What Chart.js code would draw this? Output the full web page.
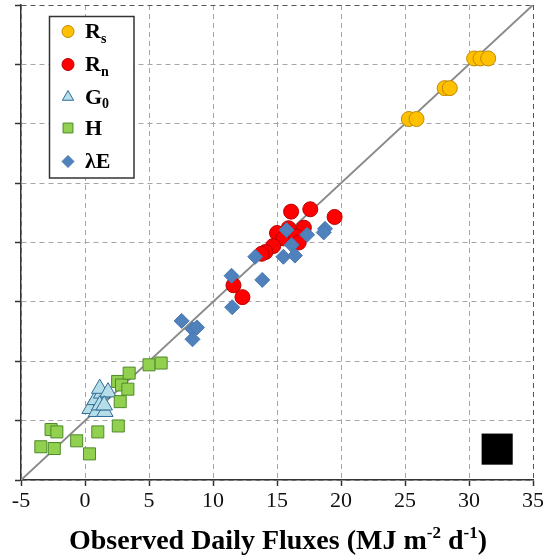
<!DOCTYPE html>
<html lang="en">
<head>
<meta charset="UTF-8">
<title>Observed daily fluxes</title>
<style>
  html, body { margin: 0; padding: 0; background: #fff; }
  #wrap { width: 548px; height: 558px; }
</style>
<script src="https://cdn.jsdelivr.net/npm/chart.js"></script>
</head>
<body>
<div id="wrap"><canvas id="fluxChart" width="548" height="558"></canvas></div>
<script>
// axis ticks (both axes run -5 .. 35)
const axisTicks = [-5, 0, 5, 10, 15, 20, 25, 30, 35];

// Rs - incoming solar radiation
const rsX = [30.4, 30.9, 31.5, 28.1, 28.5, 25.3, 25.9];
const rsY = [30.5, 30.5, 30.5, 28.0, 28.0, 25.4, 25.4];

// Rn - net radiation
const rnX = [16.1, 17.6, 19.5, 15.9, 17.1, 15.0, 15.5, 16.5, 16.7, 14.7, 14.1, 13.8, 11.6, 12.3];
const rnY = [17.6, 17.8, 17.15, 16.2, 16.25, 15.8, 15.35, 15.5, 15.0, 14.7, 14.2, 14.05, 11.4, 10.4];

// G0 - soil heat flux
const g0X = [0.4, 0.9, 1.55, 0.8, 1.3, 1.15, 1.8, 1.15, 1.5];
const g0Y = [1.0, 0.75, 0.75, 1.75, 2.3, 2.7, 2.4, 1.3, 1.3];

// H - sensible heat flux
const hX = [-2.65, -2.2, -3.45, -2.4, -0.65, 0.35, 1.0, 2.6, 2.75, 2.55, 2.85, 3.35, 3.45, 5.0, 5.95];
const hY = [-0.75, -0.95, -2.2, -2.35, -1.7, -2.8, -0.95, -0.45, 1.6, 3.3, 3.0, 2.65, 4.0, 4.7, 4.85];

// lambda E - latent heat flux
const leX = [15.75, 17.35, 18.75, 18.65, 16.15, 15.5, 16.4, 13.3, 11.45, 13.85, 11.5, 7.55, 8.4, 8.75, 8.4];
const leY = [16.05, 15.65, 16.15, 15.85, 14.8, 13.8, 13.9, 13.8, 12.2, 11.85, 9.55, 8.4, 7.7, 7.85, 6.85];

// 1:1 line and the black box in the corner
const oneToOne = [-5, 35];
const boxX = [32.2];
const boxY = [-2.4];

function pts(xs, ys) {
    return xs.map((x, i) => ({ x: x, y: ys[i] }));
}

const serif = "'Liberation Serif', 'Times New Roman', serif";

const series = [
    { label: "R", sub: "s", xs: rsX, ys: rsY, style: "circle", r: 7.5, lr: 6, fill: "#FFC000", border: "#C08A00" },
    { label: "R", sub: "n", xs: rnX, ys: rnY, style: "circle", r: 7.5, lr: 6, fill: "#FF0000", border: "#B80000" },
    { label: "G", sub: "0", xs: g0X, ys: g0Y, style: "triangle", r: 9.5, lr: 6.5, fill: "#B7DEE8", border: "#2F6E98" },
    { label: "H", sub: "", xs: hX, ys: hY, style: "rect", r: 8.5, lr: 7, fill: "#92D050", border: "#4E8A2A" },
    { label: "\u03bbE", sub: "", xs: leX, ys: leY, style: "rectRot", r: 7.5, lr: 6, fill: "#4F81BD", border: "#4A78B0" }
];

const datasets = [{
    type: "line",
    data: pts(oneToOne, oneToOne),
    borderColor: "#8a8a8a",
    borderWidth: 2,
    pointRadius: 0,
    showLine: true,
    order: 10
}];
series.forEach((s, i) => {
    datasets.push({
        data: pts(s.xs, s.ys),
        pointStyle: s.style,
        pointRadius: s.r,
        pointHoverRadius: s.r,
        backgroundColor: s.fill,
        borderColor: s.border,
        borderWidth: 1,
        order: 6 - i
    });
});
datasets.push({
    data: pts(boxX, boxY),
    pointStyle: "rect",
    pointRadius: 22,
    backgroundColor: "#000",
    borderColor: "#000",
    borderWidth: 0,
    order: 0
});

// legend with subscripts + x axis title with superscripts
const extraText = {
    id: "extraText",
    afterDatasetsDraw(chart) {
        const ctx = chart.ctx;
        ctx.save();
        ctx.fillStyle = "#fff";
        ctx.fillRect(49.5, 16.5, 84.5, 161.5);
        ctx.strokeStyle = "#333";
        ctx.lineWidth = 1.5;
        ctx.strokeRect(49.5, 16.5, 84.5, 161.5);

        const baselines = [38, 71, 103.5, 134.5, 168];
        series.forEach((s, i) => {
            const b = baselines[i];
            ctx.fillStyle = s.fill;
            ctx.strokeStyle = s.border;
            ctx.lineWidth = 1;
            Chart.helpers.drawPoint(ctx, { pointStyle: s.style, radius: s.lr, rotation: 0, borderWidth: 1 }, 68, b - 6.5);
            ctx.fillStyle = "#000";
            ctx.textBaseline = "alphabetic";
            ctx.textAlign = "left";
            ctx.font = "bold 22px " + serif;
            ctx.fillText(s.label, 85, b);
            const w = ctx.measureText(s.label).width;
            if (s.sub) {
                ctx.font = "bold 14px " + serif;
                ctx.fillText(s.sub, 85 + w, b + 4.5);
            }
        });

        // x axis title
        const parts = [
            { t: "Observed Daily Fluxes (MJ m", sup: false },
            { t: "-2", sup: true },
            { t: " d", sup: false },
            { t: "-1", sup: true },
            { t: ")", sup: false }
        ];
        const big = "bold 28px " + serif, small = "bold 17px " + serif;
        let total = 0;
        parts.forEach(p => { ctx.font = p.sup ? small : big; p.w = ctx.measureText(p.t).width; total += p.w; });
        let x = 278 - total / 2;
        parts.forEach(p => {
            ctx.font = p.sup ? small : big;
            ctx.fillText(p.t, x, p.sup ? 538 : 549);
            x += p.w;
        });
        ctx.restore();
    }
};

const edgeColor = c => (c.tick && c.tick.value === 35 ? "#555" : "#a6a6a6");

new Chart(document.getElementById("fluxChart"), {
    type: "scatter",
    data: { datasets: datasets },
    options: {
        responsive: false,
        animation: false,
        devicePixelRatio: 1,
        layout: { autoPadding: false, padding: { left: 0, top: 5, right: 15, bottom: 0 } },
        plugins: {
            legend: { display: false },
            tooltip: { enabled: false }
        },
        scales: {
            x: {
                type: "linear",
                min: axisTicks[0],
                max: axisTicks[axisTicks.length - 1],
                afterBuildTicks: axis => { axis.ticks = axisTicks.map(v => ({ value: v })); },
                afterFit: axis => { axis.height = 78; },
                ticks: { color: "#111", padding: 2, maxRotation: 0, font: { family: serif, size: 22 } },
                grid: { color: edgeColor, lineWidth: 1, tickLength: 6, tickColor: "#333", tickWidth: 1.5 },
                border: { color: "#333", width: 1.5, dash: [5, 4] }
            },
            y: {
                type: "linear",
                min: axisTicks[0],
                max: axisTicks[axisTicks.length - 1],
                afterBuildTicks: axis => { axis.ticks = axisTicks.map(v => ({ value: v })); },
                afterFit: axis => { axis.width = 21; },
                ticks: { display: false },
                grid: { color: edgeColor, lineWidth: 1, tickLength: 6, tickColor: "#333", tickWidth: 1.5 },
                border: { color: "#333", width: 1.5, dash: [5, 4] }
            }
        }
    },
    plugins: [extraText]
});
</script>
</body>
</html>
